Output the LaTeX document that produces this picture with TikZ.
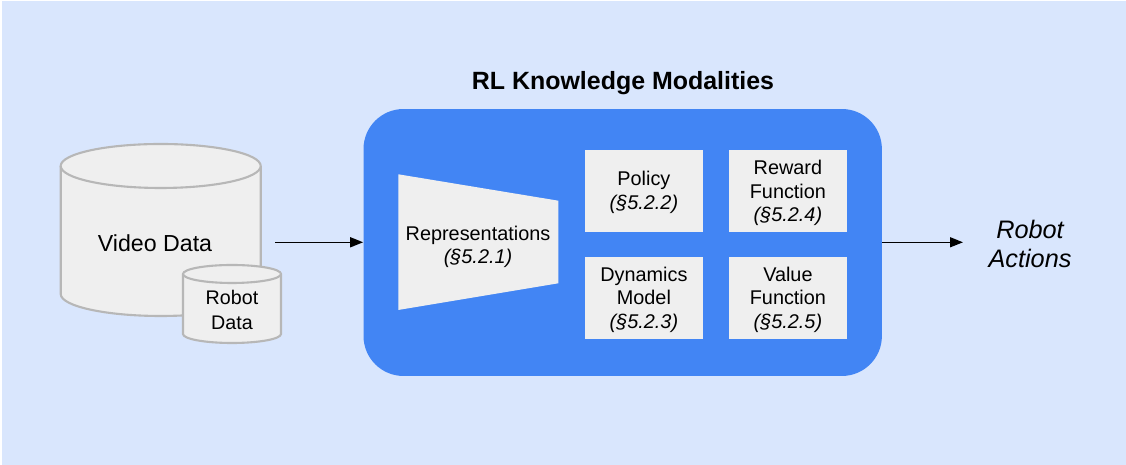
\documentclass[tikz,border=0pt]{standalone}
\usepackage{fontspec}
\setmainfont{Liberation Sans}
\usepackage{tikz}
\usetikzlibrary{arrows.meta}
\usetikzlibrary{calc}

\definecolor{bgblue}{RGB}{217,230,253}
\definecolor{gblue}{RGB}{66,133,244}
\definecolor{cylfill}{RGB}{239,239,239}
\definecolor{cylline}{RGB}{183,183,183}

\tikzset{
	cyl/.style={fill=cylfill, draw=cylline, line width=1.2pt},
	modbox/.style={fill=gblue, rounded corners=0.8cm, minimum width=10.37cm, minimum height=5.34cm},
	modality/.style={fill=cylfill, minimum width=2.354cm, minimum height=1.64cm, inner sep=0pt},
	modtext/.style={align=center, font=\fontsize{11.3}{13.5}\selectfont},
	flow/.style={-{Triangle[length=2.6mm,width=2mm]}, line width=0.85pt}
}

\begin{document}
\begin{tikzpicture}[x=0.02cm, y=0.02cm]
	\useasboundingbox (0,0) rectangle (1126,465);
	\fill [bgblue] (2,0) rectangle (1126,464);

	% data sources
	\draw [cyl] (60.7,299) -- (60.7,171) arc (180:360:100 and 22) -- (260.7,299) arc (0:180:100 and 22) -- cycle;
	\draw [cyl] (60.7,299) arc (180:360:100 and 22);
	\node [font=\fontsize{13.2}{16}\selectfont] (video) at (155,222) {Video Data};
	\draw [cyl] (183,191) -- (183,131) arc (180:360:49 and 9) -- (281,191) arc (0:180:49 and 9) -- cycle;
	\draw [cyl] (183,191) arc (180:360:49 and 9);
	\node [align=center, font=\fontsize{11.2}{14.2}\selectfont] (robot) at (232,155) {Robot\\Data};

	% knowledge modalities
	\node [modbox] (rl) at (622.7,222.5) {};
	\node [font=\bfseries\fontsize{14.2}{17}\selectfont] (title) at (623,381.5) {RL Knowledge Modalities};
	\fill [cylfill] (398.3,290.7) -- (558.3,264.3) -- (558.3,181.7) -- (398.3,155) -- cycle;
	\node [modtext] (repr) at (478,218) {Representations\\\textit{(§5.2.1)}};
	\node [modality] (policy) at (643.9,274.1) {};
	\node [modality] (reward) at (787.9,274.1) {};
	\node [modality] (dynamics) at (643.9,167.3) {};
	\node [modality] (value) at (787.9,167.3) {};
	\node [modtext] (policytxt) at ($(policy)+(0,-1.5)$) {Policy\\\textit{(§5.2.2)}};
	\node [modtext] (rewardtxt) at ($(reward)+(0,-2)$) {Reward\\Function\\\textit{(§5.2.4)}};
	\node [modtext] (dynamicstxt) at ($(dynamics)+(0,-2)$) {Dynamics\\Model\\\textit{(§5.2.3)}};
	\node [modtext] (valuetxt) at ($(value)+(0,-2)$) {Value\\Function\\\textit{(§5.2.5)}};

	% flow
	\coordinate (src) at (275,222.7);
	\coordinate (out) at (963,222.7);
	\node [align=center, font=\itshape\fontsize{14.4}{17}\selectfont] (actions) at (1030,221) {Robot\\Actions};
	\draw [flow] (src) -- (src -| rl.west);
	\draw [flow] (out -| rl.east) -- (out);
\end{tikzpicture}
\end{document}
